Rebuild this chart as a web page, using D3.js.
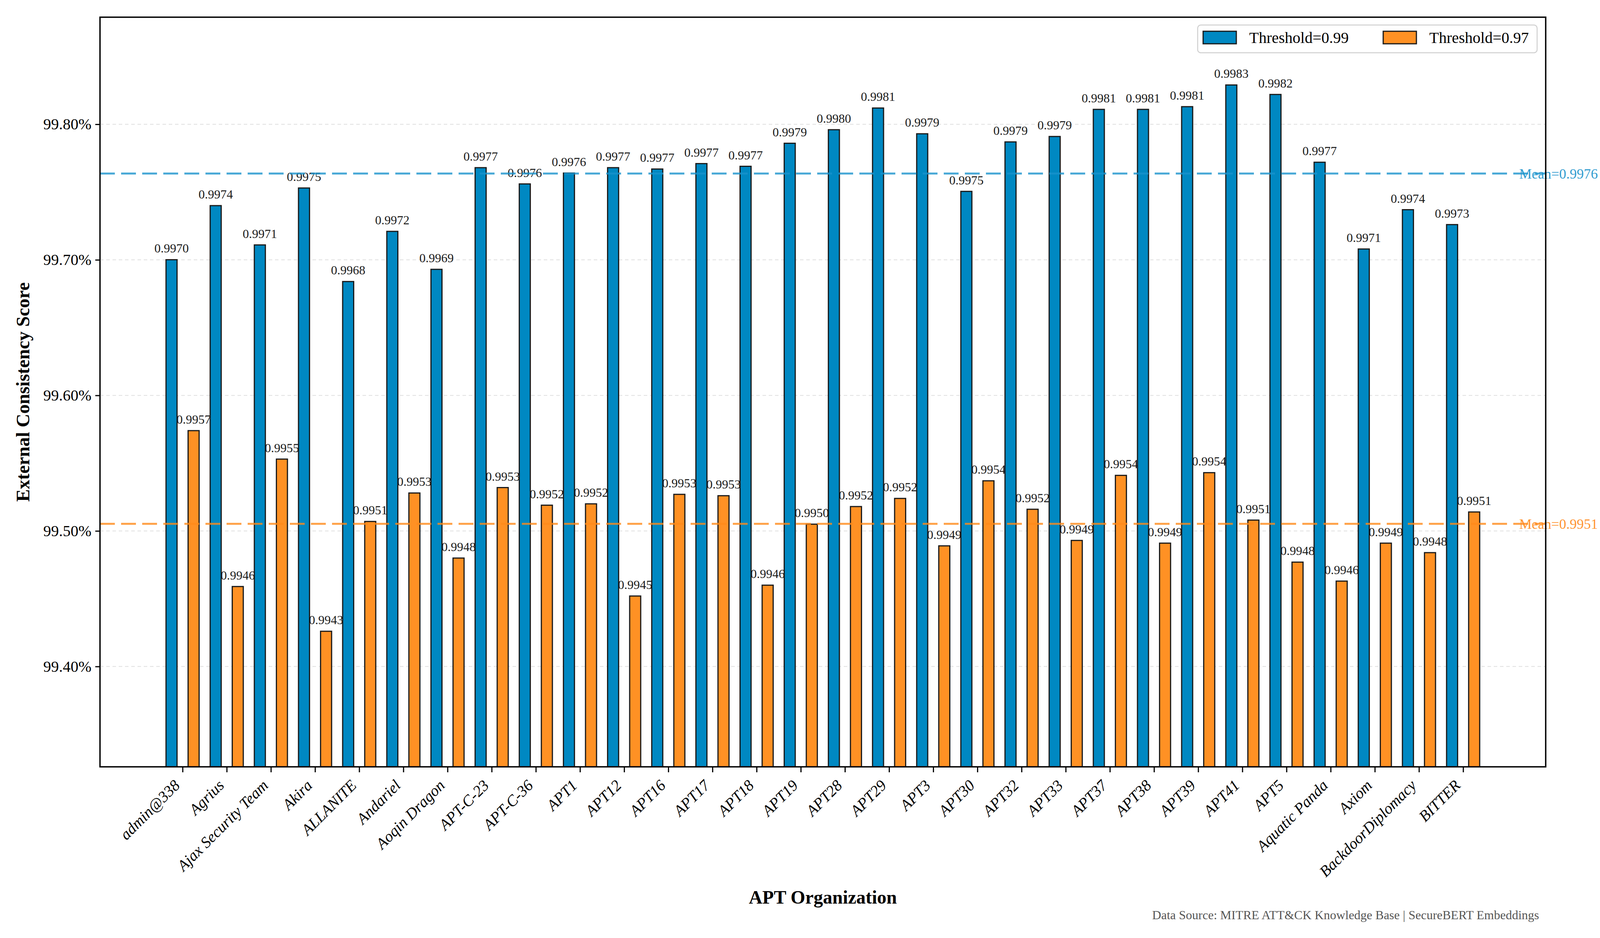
<!DOCTYPE html>
<html>
<head>
<meta charset="utf-8">
<script src="https://cdn.jsdelivr.net/npm/d3@7"></script>
<style>
  body { margin: 0; background: #fff; }
  text { font-family: "Liberation Serif", "Times New Roman", serif; }
</style>
</head>
<body>
<svg id="chart"></svg>
<script>
// data
var categories = ["admin@338", "Agrius", "Ajax Security Team", "Akira", "ALLANITE", "Andariel",
  "Aoqin Dragon", "APT-C-23", "APT-C-36", "APT1", "APT12", "APT16", "APT17", "APT18", "APT19",
  "APT28", "APT29", "APT3", "APT30", "APT32", "APT33", "APT37", "APT38", "APT39", "APT41",
  "APT5", "Aquatic Panda", "Axiom", "BackdoorDiplomacy", "BITTER"];

var scores099 = [0.997001, 0.99740, 0.99711, 0.99753, 0.99684, 0.99721, 0.99693, 0.99768, 0.99756, 0.99764,
  0.99768, 0.99767, 0.99771, 0.99769, 0.99786, 0.99796, 0.99812, 0.99793, 0.997505, 0.99787,
  0.99791, 0.99811, 0.99811, 0.99813, 0.99829, 0.99822, 0.99772, 0.99708, 0.99737, 0.99726];

var scores097 = [0.99574, 0.99459, 0.99553, 0.99426, 0.99507, 0.99528, 0.99480, 0.99532, 0.99519, 0.99520,
  0.99452, 0.99527, 0.99526, 0.99460, 0.99505, 0.99518, 0.99524, 0.99489, 0.99537, 0.99516,
  0.99493, 0.99541, 0.99491, 0.99543, 0.99508, 0.99477, 0.99463, 0.99491, 0.99484, 0.99514];

var seriesNames = ["Threshold=0.99", "Threshold=0.97"];
var yTicks = [0.994, 0.995, 0.996, 0.997, 0.998];

var width = 4128, height = 2400;
var plotLeft = 256, plotRight = 3957, plotTop = 44, plotBottom = 1962;
var blue = "#0088c2", orange = "#ff9124";

var svg = d3.select("#chart").attr("width", width).attr("height", height);

var x = d3.scaleLinear().domain([-1.87, categories.length - 1 + 1.87]).range([plotLeft, plotRight]);
var y = d3.scaleLinear()
  .domain([d3.min(scores097) - 0.001, d3.max(scores099) + 0.0005])
  .range([plotBottom, plotTop]);
var bw = x(0.25) - x(0);

svg.append("clipPath").attr("id", "plot").append("rect")
  .attr("x", plotLeft).attr("y", plotTop).attr("width", plotRight - plotLeft).attr("height", plotBottom - plotTop);

// grid
svg.append("g").selectAll("line").data(yTicks).enter().append("line")
  .attr("x1", plotLeft).attr("x2", plotRight)
  .attr("y1", function(d){ return y(d); }).attr("y2", function(d){ return y(d); })
  .attr("stroke", "#d4d4d4").attr("stroke-width", 2).attr("stroke-dasharray", "9,7").attr("opacity", 0.7);

var plot = svg.append("g").attr("clip-path", "url(#plot)");

function drawBars(values, offset, color) {
  plot.append("g").selectAll("rect").data(values).enter().append("rect")
    .attr("x", function(d, i){ return x(i + offset) - bw / 2; })
    .attr("y", function(d){ return y(d); })
    .attr("width", bw)
    .attr("height", function(d){ return y.range()[0] - y(d) + 10; })
    .attr("fill", color).attr("stroke", "#1a1a1a").attr("stroke-width", 3);

  svg.append("g").selectAll("text").data(values).enter().append("text")
    .attr("x", function(d, i){ return x(i + offset); })
    .attr("y", function(d){ return y(d) - 18; })
    .attr("text-anchor", "middle").attr("font-size", 32).attr("fill", "#1a1a1a")
    .text(function(d){ return d.toFixed(4); });
}
drawBars(scores099, -0.25, blue);
drawBars(scores097, 0.25, orange);

// mean lines
function drawMean(values, color) {
  var m = d3.mean(values);
  svg.append("line")
    .attr("x1", plotLeft).attr("x2", plotRight).attr("y1", y(m)).attr("y2", y(m))
    .attr("stroke", color).attr("stroke-width", 5).attr("stroke-dasharray", "38,16").attr("opacity", 0.8);
  svg.append("text")
    .attr("x", x(categories.length + 0.27)).attr("y", y(m)).attr("dy", "0.35em")
    .attr("font-size", 36).attr("fill", color).attr("opacity", 0.9)
    .text("Mean=" + m.toFixed(4));
}
drawMean(scores099, "#1a93cc");
drawMean(scores097, "#ff8a1a");

// axes
var yAxis = svg.append("g").attr("transform", "translate(" + plotLeft + ",0)")
  .call(d3.axisLeft(y).tickValues(yTicks).tickSize(12).tickPadding(10)
    .tickFormat(function(d){ return (d * 100).toFixed(2) + "%"; }));
yAxis.select(".domain").remove();
yAxis.selectAll("line").attr("stroke", "#000").attr("stroke-width", 3);
yAxis.selectAll("text").attr("font-size", 40).attr("fill", "#000")
  .style("font-family", "'Liberation Serif', 'Times New Roman', serif");

var xAxis = svg.append("g").attr("transform", "translate(0," + plotBottom + ")")
  .call(d3.axisBottom(x).tickValues(d3.range(categories.length)).tickSize(14)
    .tickFormat(function(i){ return categories[i]; }));
xAxis.select(".domain").remove();
xAxis.selectAll("line").attr("stroke", "#000").attr("stroke-width", 3);
xAxis.selectAll("text")
  .attr("y", null).attr("dy", null)
  .attr("text-anchor", "end")
  .attr("transform", "translate(-5,50) rotate(-45)")
  .attr("font-size", 40).attr("font-style", "italic").attr("fill", "#000")
  .style("font-family", "'Liberation Serif', 'Times New Roman', serif");

// spines
svg.append("rect").attr("x", plotLeft).attr("y", plotTop).attr("width", plotRight - plotLeft).attr("height", plotBottom - plotTop)
  .attr("fill", "none").attr("stroke", "#000").attr("stroke-width", 3.5);

// titles
svg.append("text").attr("x", (plotLeft + plotRight) / 2).attr("y", 2312)
  .attr("text-anchor", "middle").attr("font-size", 48).attr("font-weight", "bold")
  .text("APT Organization");
svg.append("text").attr("transform", "translate(75," + (plotTop + plotBottom) / 2 + ") rotate(-90)")
  .attr("text-anchor", "middle").attr("font-size", 48).attr("font-weight", "bold")
  .text("External Consistency Score");

svg.append("text").attr("x", 3940).attr("y", 2352).attr("text-anchor", "end")
  .attr("font-size", 32).attr("fill", "#555")
  .text("Data Source: MITRE ATT&CK Knowledge Base | SecureBERT Embeddings");

// legend
var legend = svg.append("g");
legend.append("rect").attr("x", 3066).attr("y", 64).attr("width", 869).attr("height", 71)
  .attr("rx", 8).attr("fill", "#fff").attr("stroke", "#cfcfcf").attr("stroke-width", 2.5);
var items = legend.selectAll("g.item").data(seriesNames).enter().append("g")
  .attr("transform", function(d, i){ return "translate(" + (3080 + i * 461) + ",80)"; });
items.append("rect").attr("width", 85).attr("height", 32)
  .attr("fill", function(d, i){ return i === 0 ? blue : orange; })
  .attr("stroke", "#1a1a1a").attr("stroke-width", 3);
items.append("text").attr("x", 118).attr("y", 30).attr("font-size", 40).text(function(d){ return d; });
</script>
</body>
</html>
